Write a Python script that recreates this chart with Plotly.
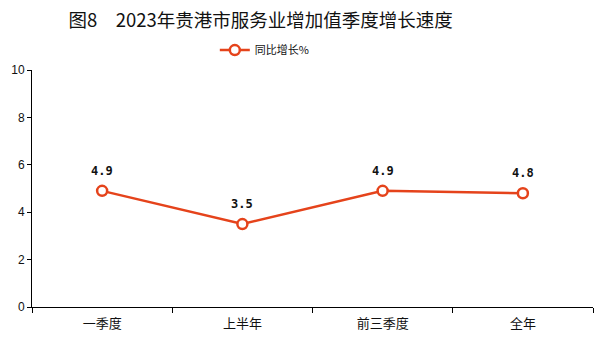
import plotly.graph_objects as go

categories = ["一季度", "上半年", "前三季度", "全年"]
values = [4.9, 3.5, 4.9, 4.8]
labels = ["4.9", "3.5", "4.9", "4.8"]
series_name = "同比增长%"
title = "图8　2023年贵港市服务业增加值季度增长速度"

fig = go.Figure()
fig.add_trace(go.Scatter(
    x=categories, y=values, name=series_name,
    mode="lines+markers",
    line=dict(color="#E5431B", width=2.5),
    marker=dict(symbol="circle", size=10, color="white", line=dict(color="#E5431B", width=2.5)),
))
for c, v, t in zip(categories, values, labels):
    fig.add_annotation(x=c, y=v, text=t, showarrow=False, yshift=20,
                       font=dict(family="'DejaVu Sans Mono', monospace", size=12,
                                 color="#111111", weight="bold"))

fig.update_layout(
    width=599, height=338,
    margin=dict(l=32, r=6, t=70, b=31),
    paper_bgcolor="white", plot_bgcolor="white",
    title=dict(text=title, x=0.435, xanchor="center", y=0.94, yanchor="middle",
               font=dict(family="'Noto Sans CJK SC', sans-serif", size=18.5, color="#111111")),
    showlegend=True,
    legend=dict(orientation="h", x=0.415, xanchor="center", y=1.084, yanchor="middle",
                font=dict(family="'Noto Sans CJK SC', sans-serif", size=11, color="#111111"),
                itemwidth=30),
    font=dict(family="'Noto Sans CJK SC', sans-serif", size=12, color="#111111"),
)
fig.update_xaxes(
    showline=True, linecolor="black", linewidth=1,
    ticks="outside", tickson="boundaries", ticklen=5, tickcolor="black",
    showgrid=False, tickfont=dict(size=13), range=[-0.5, 3.5], ticklabelstandoff=4,
)
fig.update_yaxes(
    range=[0, 10], dtick=2, showline=True, linecolor="black", linewidth=1,
    ticks="outside", ticklen=4, tickcolor="black", showgrid=False, zeroline=False,
    tickfont=dict(family="'Liberation Sans', sans-serif", size=12),
)

fig.write_html("out.html")
